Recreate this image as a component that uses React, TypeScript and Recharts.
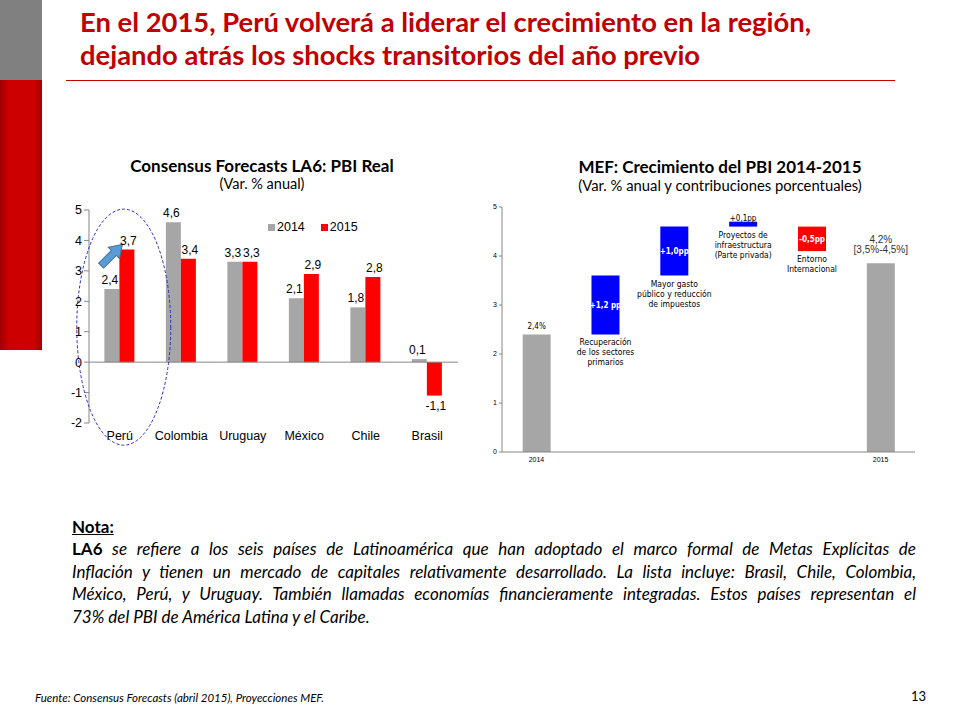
import { BarChart, Bar, XAxis, YAxis, Cell, LabelList, ReferenceLine, ReferenceDot } from "recharts";

// Consensus Forecasts LA6: PBI Real (Var. % anual)
const countries = ["Perú", "Colombia", "Uruguay", "México", "Chile", "Brasil"];
const forecast2014 = [2.4, 4.6, 3.3, 2.1, 1.8, 0.1];
const forecast2015 = [3.7, 3.4, 3.3, 2.9, 2.8, -1.1];
const leftTicks = [-2, -1, 0, 1, 2, 3, 4, 5];

// MEF: Crecimiento del PBI 2014-2015 (waterfall)
const stepNames = ["2014", "Recuperación", "Mayor gasto", "Proyectos", "Entorno", "2015"];
const stepBase = [0, 2.4, 3.6, 4.6, 4.1, 0];
const stepSize = [2.4, 1.2, 1.0, 0.1, 0.5, 3.85];
const stepInside = ["", "+1,2 pp", "+1,0pp", "", "-0,5pp", ""];
const stepAbove = [["2,4%"], [], [], ["+0,1pp"], [], ["4,2%", "[3,5%-4,5%]"]];
const stepBelow = [
  [],
  ["Recuperación", "de los sectores", "primarios"],
  ["Mayor gasto", "público y reducción", "de impuestos"],
  ["Proyectos de", "infraestructura", "(Parte privada)"],
  ["Entorno", "Internacional"],
  [],
];
const rightTicks = [0, 1, 2, 3, 4, 5];

const stepColors = ["#A6A6A6", "#0000FF", "#0000FF", "#0000FF", "#FF0000", "#A6A6A6"];

const SANS = "'Liberation Sans', Arial, sans-serif";
const NARROW = "'Liberation Sans Narrow', 'DejaVu Sans Condensed', 'Liberation Sans', sans-serif";
const CAL = "Lato, 'Open Sans', sans-serif";

const fmt = (v: number) => String(v).replace(".", ",");

const leftData = countries.map((c, i) => ({ country: c, y2014: forecast2014[i], y2015: forecast2015[i] }));
const rightData = stepNames.map((n, i) => ({ name: n, base: stepBase[i], size: stepSize[i] }));

const makeValueLabel = (dx: number) => (props: any) => {
  const { x, y, width, height, value } = props;
  const top = Math.min(y, y + height);
  const bottom = Math.max(y, y + height);
  const ty = value >= 0 ? top - 5 : bottom + 14;
  return (
    <text x={x + width / 2 + dx} y={ty} textAnchor="middle" fontSize={12} fontFamily={SANS} fill="#000">
      {fmt(value)}
    </text>
  );
};

function stepLabel(props: any) {
  const { x, y, width, height, index } = props;
  const top = Math.min(y, y + height);
  const bottom = Math.max(y, y + height);
  const cx = x + width / 2;
  const above = stepAbove[index] || [];
  const below = stepBelow[index] || [];
  const big = above.length > 1;
  return (
    <g fontFamily={NARROW}>
      {stepInside[index] ? (
        <text x={cx} y={(top + bottom) / 2 + 3} textAnchor="middle" fontSize={8} fontWeight="bold" fill="#fff">
          {stepInside[index]}
        </text>
      ) : null}
      {above.map((t, k) => (
        <text
          key={"a" + k}
          x={cx}
          y={big ? top - 20 + k * 10 : index === 3 ? top - 1 : top - 5}
          textAnchor="middle"
          fontSize={big ? 10 : 8}
          fontFamily={big ? SANS : NARROW}
          fill={big ? "#333" : "#000"}
        >
          {t}
        </text>
      ))}
      {below.map((t, k) => (
        <text key={"b" + k} x={cx} y={bottom + 11 + k * 10} textAnchor="middle" fontSize={8.5} fill="#000">
          {t}
        </text>
      ))}
    </g>
  );
}

export default function App() {
  return (
    <div
      style={{
        position: "absolute",
        left: 0,
        top: 0,
        width: 960,
        height: 720,
        background: "#fff",
        overflow: "hidden",
      }}
    >
      {/* slide decorations */}
      <div style={{ position: "absolute", left: 0, top: 0, width: 42, height: 80, background: "#808080" }} />
      <div
        style={{
          position: "absolute",
          left: 0,
          top: 80,
          width: 42,
          height: 270,
          background: "linear-gradient(to right, #A00000, #CC0000 20%, #CC0000 80%, #A00000)",
        }}
      />
      <div
        style={{
          position: "absolute",
          left: 80,
          top: 5,
          fontFamily: CAL,
          fontWeight: "bold",
          fontSize: 27.4,
          lineHeight: "33px",
          color: "#C00000",
          whiteSpace: "nowrap",
        }}
      >
        <div>En el 2015, Perú volverá a liderar el crecimiento en la región,</div>
        <div>dejando atrás los shocks transitorios del año previo</div>
      </div>
      <div style={{ position: "absolute", left: 66, top: 80, width: 829, height: 1, background: "#C00000" }} />

      {/* left chart titles */}
      <div style={{ position: "absolute", left: 60, width: 404, top: 156, textAlign: "center", fontFamily: CAL }}>
        <div style={{ fontWeight: "bold", fontSize: 17, lineHeight: "20px" }}>Consensus Forecasts LA6: PBI Real</div>
        <div style={{ fontSize: 14.5, lineHeight: "16px" }}>(Var. % anual)</div>
      </div>

      {/* left chart */}
      <div style={{ position: "absolute", left: 40, top: 200 }}>
        <BarChart
          width={425}
          height={248}
          data={leftData}
          margin={{ top: 10, right: 7, left: 0, bottom: 0 }}
          barCategoryGap="25%"
          barGap={0}
        >
          <XAxis
            dataKey="country"
            axisLine={false}
            tickLine={false}
            tickMargin={2}
            height={25}
            interval={0}
            tick={{ fontSize: 12.5, fill: "#000", fontFamily: SANS }}
          />
          <YAxis
            domain={[-2, 5]}
            ticks={leftTicks}
            width={49}
            interval={0}
            stroke="#868686"
            tickSize={5}
            tick={{ fontSize: 12.5, fill: "#000", fontFamily: SANS }}
          />
          <ReferenceLine y={0} stroke="#868686" />
          <Bar dataKey="y2014" fill="#A6A6A6" isAnimationActive={false}>
            <LabelList dataKey="y2014" content={makeValueLabel(-2)} />
          </Bar>
          <Bar dataKey="y2015" fill="#FF0000" isAnimationActive={false}>
            <LabelList dataKey="y2015" content={makeValueLabel(1.5)} />
          </Bar>
          <ReferenceDot
            x="Perú"
            y={1.15}
            ifOverflow="visible"
            shape={(p: any) => (
              <ellipse
                cx={p.cx + 4}
                cy={p.cy}
                rx={47}
                ry={118}
                fill="none"
                stroke="#2B2BC8"
                strokeWidth={1}
                strokeDasharray="3 2"
              />
            )}
          />
          <ReferenceDot
            x="Perú"
            y={3.52}
            ifOverflow="visible"
            shape={(p: any) => (
              <g transform={`translate(${p.cx - 8},${p.cy}) rotate(-45)`}>
                <polygon
                  points="-15,-3.5 3,-3.5 3,-8 15,0 3,8 3,3.5 -15,3.5"
                  fill="#5B9BD5"
                  stroke="#41719C"
                  strokeWidth={1}
                />
              </g>
            )}
          />
        </BarChart>
      </div>

      {/* left legend */}
      <div
        style={{
          position: "absolute",
          left: 268,
          top: 220,
          fontFamily: SANS,
          fontSize: 12.5,
          display: "flex",
          alignItems: "center",
          gap: 16,
        }}
      >
        <span style={{ display: "flex", alignItems: "center" }}>
          <span style={{ width: 7, height: 7, background: "#A6A6A6", marginRight: 2 }} />
          2014
        </span>
        <span style={{ display: "flex", alignItems: "center" }}>
          <span style={{ width: 7, height: 7, background: "#FF0000", marginRight: 2 }} />
          2015
        </span>
      </div>

      {/* right chart titles */}
      <div style={{ position: "absolute", left: 520, width: 400, top: 157, textAlign: "center", fontFamily: CAL }}>
        <div style={{ fontWeight: "bold", fontSize: 17, lineHeight: "20px" }}>MEF: Crecimiento del PBI 2014-2015</div>
        <div style={{ fontSize: 14.8, lineHeight: "17px" }}>(Var. % anual y contribuciones porcentuales)</div>
      </div>

      {/* right chart */}
      <div style={{ position: "absolute", left: 480, top: 195 }}>
        <BarChart
          width={445}
          height={275}
          data={rightData}
          margin={{ top: 12, right: 10, left: 0, bottom: 3 }}
          barCategoryGap="30%"
        >
          <XAxis
            dataKey="name"
            interval={0}
            stroke="#868686"
            tickLine={false}
            tickSize={3}
            tickMargin={2}
            height={15}
            tickFormatter={(v: string) => (v === "2014" || v === "2015" ? v : "")}
            tick={{ fontSize: 7, fill: "#000", fontFamily: SANS }}
          />
          <YAxis
            domain={[0, 5]}
            ticks={rightTicks}
            interval={0}
            width={22}
            stroke="#868686"
            tickSize={3}
            tick={{ fontSize: 7, fill: "#000", fontFamily: SANS }}
          />
          <Bar dataKey="base" stackId="w" fill="transparent" isAnimationActive={false} />
          <Bar dataKey="size" stackId="w" isAnimationActive={false}>
            {rightData.map((d, i) => (
              <Cell key={d.name} fill={stepColors[i]} />
            ))}
            <LabelList dataKey="size" content={stepLabel} />
          </Bar>
        </BarChart>
      </div>

      {/* note */}
      <div style={{ position: "absolute", left: 72, top: 516, width: 844, fontFamily: CAL, color: "#000" }}>
        <div style={{ fontWeight: "bold", fontSize: 17, lineHeight: "22px", textDecoration: "underline" }}>Nota:</div>
        <div style={{ fontStyle: "italic", fontSize: 17, lineHeight: "22.5px" }}>
          <div style={{ textAlign: "justify", textAlignLast: "justify" }}>
            <b style={{ fontStyle: "normal" }}>LA6</b> se refiere a los seis países de Latinoamérica que han adoptado el
            marco formal de Metas Explícitas de
          </div>
          <div style={{ textAlign: "justify", textAlignLast: "justify" }}>
            Inflación y tienen un mercado de capitales relativamente desarrollado. La lista incluye: Brasil, Chile,
            Colombia,
          </div>
          <div style={{ textAlign: "justify", textAlignLast: "justify" }}>
            México, Perú, y Uruguay. También llamadas economías financieramente integradas. Estos países representan el
          </div>
          <div>73% del PBI de América Latina y el Caribe.</div>
        </div>
      </div>

      {/* footer */}
      <div style={{ position: "absolute", left: 35, top: 691, fontFamily: CAL, fontStyle: "italic", fontSize: 11.5 }}>
        Fuente: Consensus Forecasts (abril 2015), Proyecciones MEF.
      </div>
      <div style={{ position: "absolute", left: 911, top: 688, fontFamily: CAL, fontSize: 13 }}>13</div>
    </div>
  );
}
